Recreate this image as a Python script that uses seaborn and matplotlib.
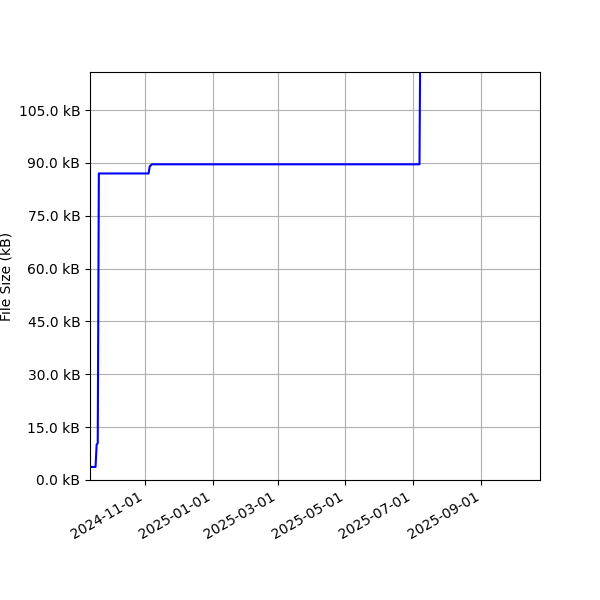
import matplotlib
matplotlib.use("Agg")
import matplotlib.pyplot as plt
import matplotlib.dates as mdates
import matplotlib.ticker as mticker
import seaborn as sns
import pandas as pd

# commit dates and file size (kB)
dates = ['2024-09-12', '2024-09-17', '2024-09-18', '2024-09-19', '2024-09-20',
         '2024-11-04', '2024-11-05', '2024-11-07', '2025-07-07', '2025-07-08',
         '2025-10-24']
sizes = [3.7, 3.7, 10.0, 10.5, 87.0,
         87.0, 89.0, 89.6, 89.6, 140.0,
         140.0]

df = pd.DataFrame({'date': pd.to_datetime(dates), 'size': sizes})

fig, ax = plt.subplots(figsize=(6, 6), dpi=100)
sns.lineplot(data=df, x='date', y='size', color='blue', linewidth=1.5, ax=ax)

ax.set_xlim(pd.Timestamp('2024-09-12'), pd.Timestamp('2025-10-24'))
ax.set_ylim(0, 115.8)
ax.yaxis.set_major_locator(mticker.MultipleLocator(15))
ax.yaxis.set_major_formatter(mticker.FormatStrFormatter('%.1f kB'))
ax.xaxis.set_major_locator(mdates.MonthLocator(bymonth=[1, 3, 5, 7, 9, 11]))
ax.xaxis.set_major_formatter(mdates.DateFormatter('%Y-%m-%d'))

ax.set_xlabel('')
ax.set_ylabel('File Size (kB)')
ax.grid(True)

fig.autofmt_xdate()
plt.subplots_adjust(left=0.15, right=0.9, top=0.88, bottom=0.2)
plt.savefig('out.png', dpi=100)
